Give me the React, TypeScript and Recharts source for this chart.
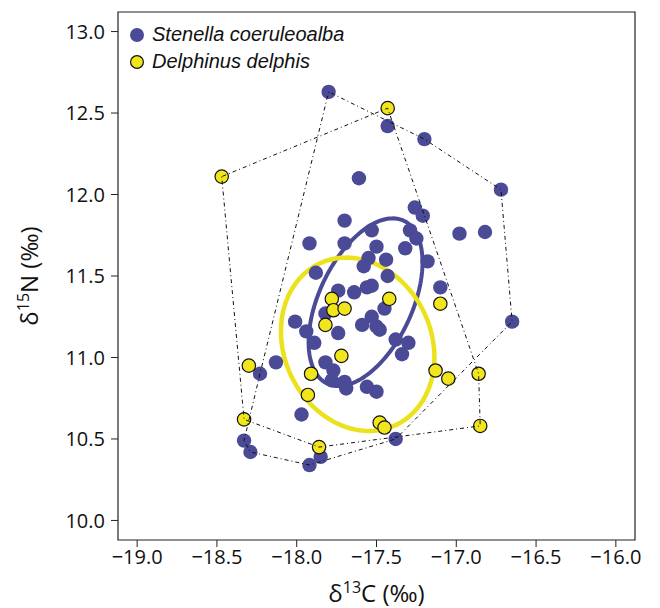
import React from 'react';
import { ScatterChart, Scatter, XAxis, YAxis, ReferenceArea, Legend } from 'recharts';

// Stenella coeruleoalba
const blueX = [-17.80, -17.43, -17.20, -16.72, -17.61, -17.26, -17.21, -17.70, -16.98, -16.82, -17.92, -17.70, -17.53, -17.29, -17.25, -17.50, -17.32, -17.55, -17.44, -17.58, -17.18, -17.43, -17.88, -17.74, -17.64, -17.56, -17.53, -17.10, -17.82, -17.45, -18.01, -17.53, -17.59, -17.50, -17.48, -17.94, -17.74, -17.89, -17.38, -17.30, -17.34, -16.65, -18.13, -18.23, -17.82, -17.77, -17.78, -17.70, -17.69, -17.56, -17.50, -17.97, -18.33, -18.29, -17.85, -17.92, -17.38];
const blueY = [12.63, 12.42, 12.34, 12.03, 12.10, 11.92, 11.87, 11.84, 11.76, 11.77, 11.70, 11.70, 11.78, 11.78, 11.73, 11.68, 11.67, 11.61, 11.60, 11.56, 11.59, 11.50, 11.52, 11.41, 11.40, 11.43, 11.44, 11.43, 11.27, 11.30, 11.22, 11.25, 11.20, 11.19, 11.17, 11.16, 11.15, 11.09, 11.11, 11.09, 11.02, 11.22, 10.97, 10.90, 10.97, 10.92, 10.86, 10.85, 10.81, 10.82, 10.79, 10.65, 10.49, 10.42, 10.39, 10.34, 10.50];

// Delphinus delphis
const yellowX = [-18.47, -17.43, -17.42, -17.78, -17.77, -17.70, -17.10, -17.82, -17.72, -17.91, -17.13, -17.05, -17.93, -18.30, -18.33, -17.86, -16.86, -16.85, -17.48, -17.45];
const yellowY = [12.11, 12.53, 11.36, 11.36, 11.29, 11.30, 11.33, 11.20, 11.01, 10.90, 10.92, 10.87, 10.77, 10.95, 10.62, 10.45, 10.90, 10.58, 10.60, 10.57];

const seriesNames = ['Stenella coeruleoalba', 'Delphinus delphis'];
const xTicks = [-19.0, -18.5, -18.0, -17.5, -17.0, -16.5, -16.0];
const yTicks = [10.0, 10.5, 11.0, 11.5, 12.0, 12.5, 13.0];
const xDomain = [-19.12, -15.88];
const yDomain = [9.88, 13.12];

const BLUE = '#4b4a96';
const YELLOW = '#f1e61c';
const YELLOW_LINE = '#ece21c';
const FONT = "'Open Sans', sans-serif";

type P = { x: number; y: number };

const toPoints = (xs: number[], ys: number[]): P[] => xs.map((x, i) => ({ x, y: ys[i] }));

function convexHull(xs: number[], ys: number[]): P[] {
  const pts = toPoints(xs, ys).sort((a, b) => a.x - b.x || a.y - b.y);
  const cross = (o: P, a: P, b: P) => (a.x - o.x) * (b.y - o.y) - (a.y - o.y) * (b.x - o.x);
  const lower: P[] = [];
  for (const p of pts) {
    while (lower.length >= 2 && cross(lower[lower.length - 2], lower[lower.length - 1], p) <= 0) lower.pop();
    lower.push(p);
  }
  const upper: P[] = [];
  for (let i = pts.length - 1; i >= 0; i--) {
    const p = pts[i];
    while (upper.length >= 2 && cross(upper[upper.length - 2], upper[upper.length - 1], p) <= 0) upper.pop();
    upper.push(p);
  }
  const h = lower.slice(0, -1).concat(upper.slice(0, -1));
  return h.concat([h[0]]);
}

// small-sample corrected standard ellipse (SEAc) from the data covariance
function standardEllipse(xs: number[], ys: number[], steps = 160): P[] {
  const n = xs.length;
  const mx = xs.reduce((s, v) => s + v, 0) / n;
  const my = ys.reduce((s, v) => s + v, 0) / n;
  let sxx = 0, syy = 0, sxy = 0;
  for (let i = 0; i < n; i++) {
    const dx = xs[i] - mx, dy = ys[i] - my;
    sxx += dx * dx; syy += dy * dy; sxy += dx * dy;
  }
  const k = (n - 1) / (n - 2);
  const a = (sxx / (n - 1)) * k, d = (syy / (n - 1)) * k, b = (sxy / (n - 1)) * k;
  const tr = (a + d) / 2;
  const disc = Math.sqrt(((a - d) / 2) ** 2 + b * b);
  const r1 = Math.sqrt(tr + disc), r2 = Math.sqrt(Math.max(tr - disc, 0));
  const th = 0.5 * Math.atan2(2 * b, a - d);
  const out: P[] = [];
  for (let i = 0; i <= steps; i++) {
    const t = (2 * Math.PI * i) / steps;
    out.push({
      x: mx + r1 * Math.cos(th) * Math.cos(t) - r2 * Math.sin(th) * Math.sin(t),
      y: my + r1 * Math.sin(th) * Math.cos(t) + r2 * Math.cos(th) * Math.sin(t),
    });
  }
  return out;
}

const blueData = toPoints(blueX, blueY);
const yellowData = toPoints(yellowX, yellowY);
const blueHull = convexHull(blueX, blueY);
const yellowHull = convexHull(yellowX, yellowY);
const blueEllipse = standardEllipse(blueX, blueY);
const yellowEllipse = standardEllipse(yellowX, yellowY);

const fmt = (v: number) => (v < 0 ? '\u2212' : '') + Math.abs(v).toFixed(1);

const BlueDot = (p: any) => <circle cx={p.cx} cy={p.cy} r={7.2} fill={BLUE} />;
const YellowDot = (p: any) => <circle cx={p.cx} cy={p.cy} r={6.7} fill={YELLOW} stroke="#111" strokeWidth={1.2} />;
const NoDot = () => <g />;

const XTitle = (props: any) => {
  const vb = props.viewBox || { x: 118, width: 515 };
  const cx = vb.x + vb.width / 2;
  return (
    <text x={cx} y={602} textAnchor="middle" fontSize={24} fontFamily={FONT} fill="#111">
      δ<tspan dy={-9} fontSize={16}>13</tspan><tspan dy={9}>C (‰)</tspan>
    </text>
  );
};

const YTitle = (props: any) => {
  const vb = props.viewBox || { y: 12, height: 528 };
  const cy = vb.y + vb.height / 2;
  const x = 38;
  return (
    <text x={x} y={cy} transform={`rotate(-90, ${x}, ${cy})`} textAnchor="middle" fontSize={24} fontFamily={FONT} fill="#111">
      δ<tspan dy={-9} fontSize={16}>15</tspan><tspan dy={9}>N (‰)</tspan>
    </text>
  );
};

const LegendContent = () => (
  <div style={{ fontFamily: "'Liberation Sans', Arial, sans-serif", fontStyle: 'italic', fontSize: 20, color: '#111', lineHeight: '27px' }}>
    <div style={{ display: 'flex', alignItems: 'center' }}>
      <svg width={18} height={18} style={{ marginRight: 6 }}><circle cx={9} cy={9} r={7} fill={BLUE} /></svg>
      <span>{seriesNames[0]}</span>
    </div>
    <div style={{ display: 'flex', alignItems: 'center' }}>
      <svg width={18} height={18} style={{ marginRight: 6 }}><circle cx={9} cy={9} r={6.4} fill={YELLOW} stroke="#111" strokeWidth={1.2} /></svg>
      <span>{seriesNames[1]}</span>
    </div>
  </div>
);

export default function App() {
  const hullLine = { stroke: '#111', strokeWidth: 1, strokeDasharray: '1 3 4 3' };
  return (
    <div style={{ position: 'absolute', left: 0, top: 0, background: '#fff' }}>
      <ScatterChart width={660} height={608} margin={{ top: 12, right: 25, bottom: 8, left: 48 }}>
        <XAxis
          type="number"
          dataKey="x"
          domain={xDomain}
          ticks={xTicks}
          tickFormatter={fmt}
          axisLine={false}
          tickSize={7}
          tickMargin={3}
          tickLine={{ stroke: '#222' }}
          tick={{ fontSize: 20, fontFamily: FONT, fill: '#111' }}
          height={60}
          allowDataOverflow
          label={<XTitle />}
        />
        <YAxis
          type="number"
          dataKey="y"
          domain={yDomain}
          ticks={yTicks}
          tickFormatter={fmt}
          axisLine={false}
          tickSize={7}
          tickMargin={6}
          tickLine={{ stroke: '#222' }}
          tick={{ fontSize: 20, fontFamily: FONT, fill: '#111' }}
          width={70}
          allowDataOverflow
          label={<YTitle />}
        />
        <ReferenceArea x1={xDomain[0]} x2={xDomain[1]} y1={yDomain[0]} y2={yDomain[1]} fill="none" stroke="#222" strokeWidth={1.2} fillOpacity={0} />
        <Scatter data={blueEllipse} line={{ stroke: BLUE, strokeWidth: 4 }} lineType="joint" shape={NoDot} isAnimationActive={false} />
        <Scatter data={yellowEllipse} line={{ stroke: YELLOW_LINE, strokeWidth: 4.5 }} lineType="joint" shape={NoDot} isAnimationActive={false} />
        <Scatter data={blueData} shape={BlueDot} isAnimationActive={false} />
        <Scatter data={yellowData} shape={YellowDot} isAnimationActive={false} />
        <Scatter data={blueHull} line={hullLine} lineType="joint" shape={NoDot} isAnimationActive={false} />
        <Scatter data={yellowHull} line={hullLine} lineType="joint" shape={NoDot} isAnimationActive={false} />
        <Legend layout="vertical" align="center" verticalAlign="middle" content={LegendContent} wrapperStyle={{ top: 21, left: 128, width: 'auto', height: 'auto' }} />
      </ScatterChart>
    </div>
  );
}
